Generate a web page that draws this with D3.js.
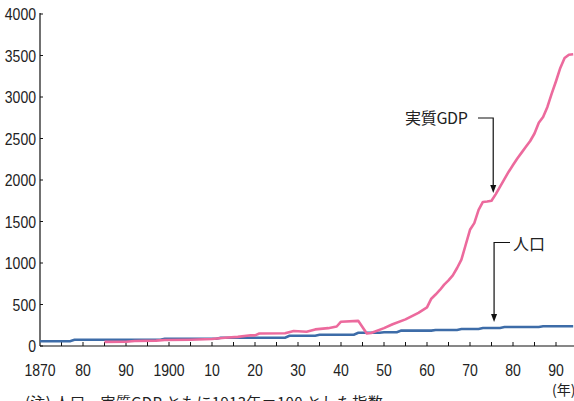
<!DOCTYPE html>
<html>
<head>
<meta charset="utf-8">
<script src="https://cdn.jsdelivr.net/npm/d3@7"></script>
<style>
  body { margin: 0; background: #fff; }
  svg text { font-family: "Liberation Sans", Arial, sans-serif; fill: #222; }
  .jp { font-family: "Noto Sans CJK JP", sans-serif; }
</style>
</head>
<body>
<div id="chart"></div>
<script>
// population index (1913 = 100)
var popYears  = [1870, 1877, 1878, 1898, 1899, 1911, 1912, 1927, 1928, 1934, 1935, 1943, 1944, 1949, 1950, 1953, 1954, 1961, 1962, 1967, 1968, 1972, 1973, 1977, 1978, 1986, 1987, 1994]
var popValues = [58, 58, 75, 75, 88, 88, 100, 100, 124, 124, 136, 136, 160, 160, 165, 165, 185, 185, 193, 193, 205, 205, 217, 217, 229, 229, 238, 238]

// real GDP index (1913 = 100)
var gdpYears  = [1885, 1890, 1892, 1897, 1899, 1905, 1910, 1913, 1916, 1919, 1920, 1921, 1927, 1929, 1932, 1934, 1937, 1939, 1940, 1944, 1946, 1947, 1950, 1952, 1955, 1958, 1960, 1961, 1962, 1963, 1964, 1965, 1966, 1967, 1968, 1969, 1970, 1971, 1972, 1973, 1974, 1975, 1976, 1977, 1978, 1979, 1980, 1981, 1982, 1983, 1984, 1985, 1986, 1987, 1988, 1989, 1990, 1991, 1992, 1993, 1994]
var gdpValues = [50, 52, 60, 65, 72, 76, 85, 100, 110, 130, 128, 150, 153, 180, 172, 200, 215, 235, 293, 303, 150, 157, 215, 262, 321, 400, 465, 570, 620, 675, 740, 790, 850, 940, 1040, 1220, 1400, 1480, 1640, 1735, 1740, 1750, 1830, 1920, 2010, 2100, 2180, 2260, 2330, 2400, 2470, 2560, 2690, 2760, 2880, 3040, 3190, 3350, 3470, 3510, 3515]

var yTicks = [0, 500, 1000, 1500, 2000, 2500, 3000, 3500, 4000]
var xLabelYears = [1870, 1880, 1890, 1900, 1910, 1920, 1930, 1940, 1950, 1960, 1970, 1980, 1990]
var xLabels = ['1870', '80', '90', '1900', '10', '20', '30', '40', '50', '60', '70', '80', '90']

var width = 574, height = 401
var narrow = 0.85

var svg = d3.select('#chart')
  .append('svg')
  .attr('width', width)
  .attr('height', height)

var x = d3.scaleLinear().domain([1870, 1995]).range([40, 577.5])
var y = d3.scaleLinear().domain([0, 4000]).range([346, 14])

// axes
svg.append('line')
  .attr('x1', x(1870)).attr('x2', width)
  .attr('y1', y(0)).attr('y2', y(0))
  .attr('stroke', '#111').attr('stroke-width', 1.2)
svg.append('line')
  .attr('x1', x(1870)).attr('x2', x(1870))
  .attr('y1', y(4000) - 1).attr('y2', y(0))
  .attr('stroke', '#111').attr('stroke-width', 1.2)

// y ticks + labels
svg.selectAll('.ytick')
  .data(yTicks)
  .enter()
  .append('line')
  .attr('x1', x(1870)).attr('x2', x(1870) + 3)
  .attr('y1', function (d) { return y(d) }).attr('y2', function (d) { return y(d) })
  .attr('stroke', '#111')
svg.selectAll('.ylab')
  .data(yTicks)
  .enter()
  .append('text')
  .attr('transform', function (d) { return 'translate(36,' + (y(d) + 6) + ')scale(' + narrow + ',1)' })
  .attr('text-anchor', 'end')
  .style('font-size', '16.5px')
  .text(function (d) { return d })

// x ticks every 5 years
var xTicks = d3.range(1875, 1996, 5)
svg.selectAll('.xtick')
  .data(xTicks)
  .enter()
  .append('line')
  .attr('x1', function (d) { return x(d) }).attr('x2', function (d) { return x(d) })
  .attr('y1', y(0)).attr('y2', y(0) - 4)
  .attr('stroke', '#111')
svg.selectAll('.xlab')
  .data(xLabelYears)
  .enter()
  .append('text')
  .attr('transform', function (d) { return 'translate(' + x(d) + ',376)scale(' + narrow + ',1)' })
  .attr('text-anchor', 'middle')
  .style('font-size', '16.5px')
  .text(function (d, i) { return xLabels[i] })

svg.append('text')
  .attr('x', 552).attr('y', 395)
  .attr('class', 'jp')
  .style('font-size', '14px')
  .text('(年)')

svg.append('text')
  .attr('x', 25).attr('y', 408)
  .attr('class', 'jp')
  .style('font-size', '15px')
  .style('letter-spacing', '0.3px')
  .text('(注) 人口、実質GDP ともに1913年＝100 とした指数')

// lines
var line = d3.line()
  .x(function (d) { return x(d[0]) })
  .y(function (d) { return y(d[1]) })

svg.append('path')
  .datum(d3.zip(popYears, popValues))
  .attr('d', line)
  .attr('fill', 'none')
  .attr('stroke', '#3d6ca8')
  .attr('stroke-width', 2.6)

svg.append('path')
  .datum(d3.zip(gdpYears, gdpValues))
  .attr('d', line)
  .attr('fill', 'none')
  .attr('stroke', '#ec6a9d')
  .attr('stroke-width', 2.6)
  .attr('stroke-linejoin', 'round')

// annotations
function arrowHead (ax, ay) {
  svg.append('path')
    .attr('d', 'M' + (ax - 3) + ',' + (ay - 8) + 'L' + (ax + 3) + ',' + (ay - 8) + 'L' + ax + ',' + ay + 'Z')
    .attr('fill', '#111')
}

var gdpArrowX = x(1975.4)
svg.append('text')
  .attr('x', 405).attr('y', 124)
  .attr('class', 'jp')
  .style('font-size', '16px')
  .style('letter-spacing', '-0.3px')
  .text('実質GDP')
svg.append('path')
  .attr('d', 'M478,118H' + gdpArrowX + 'V186')
  .attr('fill', 'none').attr('stroke', '#111').attr('stroke-width', 1.2)
arrowHead(gdpArrowX, 193)

var popArrowX = x(1975.6)
svg.append('text')
  .attr('x', 513).attr('y', 250)
  .attr('class', 'jp')
  .style('font-size', '16px')
  .text('人口')
svg.append('path')
  .attr('d', 'M510,242.5H' + popArrowX + 'V315')
  .attr('fill', 'none').attr('stroke', '#111').attr('stroke-width', 1.2)
arrowHead(popArrowX, 322)
</script>
</body>
</html>
